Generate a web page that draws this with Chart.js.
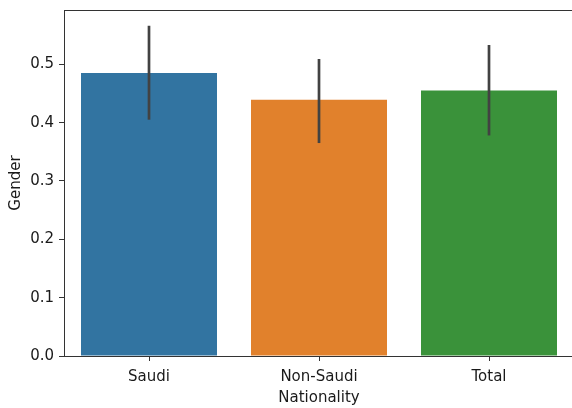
<!DOCTYPE html>
<html>
<head>
<meta charset="utf-8">
<script src="https://cdn.jsdelivr.net/npm/chart.js@4.4.1/dist/chart.umd.min.js"></script>
<style>
  html, body { margin: 0; padding: 0; background: #fff; overflow: hidden; }
  #wrap { width: 578px; height: 408px; }
</style>
</head>
<body>
<div id="wrap"><canvas id="chart" width="578" height="408"></canvas></div>
<script>
// Mean of "Gender" per nationality group, with confidence interval bounds
const categories = ['Saudi', 'Non-Saudi', 'Total'];
const genderMean = [0.485, 0.439, 0.455];
const ciLow = [0.405, 0.365, 0.378];
const ciHigh = [0.566, 0.509, 0.533];
const barColors = ['#3274a1', '#e1812c', '#3a923a'];
const yTickValues = [0.0, 0.1, 0.2, 0.3, 0.4, 0.5];

const FONT = { family: 'DejaVu Sans', size: 15 };
const TEXT = '#1a1a1a';
const SPINE = '#333333';

// Vertical error bars centred on each bar
const errorBars = {
  id: 'errorBars',
  afterDatasetsDraw(chart) {
    const { ctx, scales: { x, y } } = chart;
    ctx.save();
    ctx.strokeStyle = '#424242';
    ctx.lineWidth = 2.7;
    ctx.lineCap = 'butt';
    categories.forEach((c, i) => {
      const px = x.getPixelForValue(i);
      ctx.beginPath();
      ctx.moveTo(px, y.getPixelForValue(ciLow[i]));
      ctx.lineTo(px, y.getPixelForValue(ciHigh[i]));
      ctx.stroke();
    });
    ctx.restore();
  }
};

// Full box around the plotting area
const frame = {
  id: 'frame',
  afterDraw(chart) {
    const { ctx, chartArea: a } = chart;
    ctx.save();
    ctx.strokeStyle = SPINE;
    ctx.lineWidth = 1;
    ctx.strokeRect(Math.round(a.left) + 0.5, Math.round(a.top) + 0.5,
                   Math.round(a.right - a.left), Math.round(a.bottom - a.top));
    ctx.restore();
  }
};

new Chart(document.getElementById('chart'), {
  type: 'bar',
  data: {
    labels: categories,
    datasets: [{
      data: genderMean,
      backgroundColor: barColors,
      borderWidth: 0,
      categoryPercentage: 0.8,
      barPercentage: 1.0
    }]
  },
  options: {
    responsive: false,
    devicePixelRatio: 1,
    animation: false,
    layout: { padding: { top: 10, right: 4, left: 0, bottom: 0 } },
    plugins: { legend: { display: false }, tooltip: { enabled: false } },
    scales: {
      x: {
        afterFit(s) { s.height = 52; s.paddingLeft = 0; s.paddingRight = 0; },
        grid: { display: true, drawOnChartArea: false, tickLength: 5, color: SPINE, offset: false },
        border: { display: true, color: SPINE, width: 1 },
        ticks: { font: FONT, color: TEXT, padding: 7, maxRotation: 0 },
        title: { display: true, text: 'Nationality', font: FONT, color: TEXT, padding: { top: 0, bottom: 1 } }
      },
      y: {
        min: 0,
        max: 0.593,
        afterFit(s) { s.width = 64; s.paddingTop = 0; s.paddingBottom = 0; },
        afterBuildTicks(s) { s.ticks = yTickValues.map(v => ({ value: v })); },
        grid: { display: true, drawOnChartArea: false, tickLength: 5, color: SPINE },
        border: { display: true, color: SPINE, width: 1 },
        ticks: { font: FONT, color: TEXT, padding: 5, callback: v => Number(v).toFixed(1) },
        title: { display: true, text: 'Gender', font: FONT, color: TEXT, padding: { top: 7, bottom: 0 } }
      }
    }
  },
  plugins: [errorBars, frame]
});
</script>
</body>
</html>
